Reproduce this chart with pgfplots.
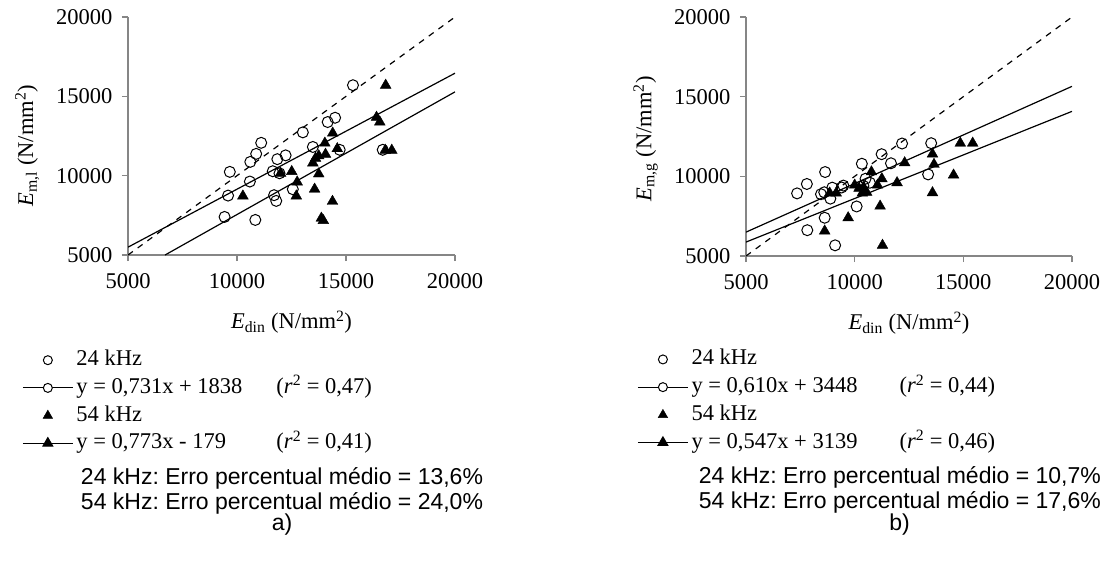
\documentclass[border=0pt]{standalone}
\usepackage{fontspec}
\setmainfont{Liberation Serif}
\newfontfamily\arialfont{Liberation Sans}
\usepackage{pgfplots}
\pgfplotsset{compat=1.18}
\frenchspacing
\definecolor{axgray}{RGB}{134,134,134}
\newcommand{\tfont}{\fontsize{22.5}{27}\selectfont}
\newcommand{\afont}{\arialfont\fontsize{23}{27}\selectfont}
\pgfplotsset{
 lineleg/.style={legend image code/.code={\draw[mark repeat=2,mark phase=2,##1] plot coordinates {(0pt,0pt) (25pt,0pt) (50pt,0pt)};}},
 markleg/.style={legend image code/.code={\draw[##1,only marks] plot coordinates {(25pt,0pt)};}},
 myaxis/.style={
   scale only axis, width=327pt, height=238pt,
   xmin=5000,xmax=20000,ymin=5000,ymax=20000,
   xtick={5000,10000,15000,20000}, ytick={5000,10000,15000,20000},
   scaled ticks=false,
   axis lines=left, axis line style={-, draw=axgray, line width=1.2pt},
   tick style={draw=axgray, line width=1.2pt},
   major tick length=6pt, tick align=outside,
   xticklabel shift=9pt, yticklabel shift=6pt,
   tick label style={font=\tfont, /pgf/number format/.cd, fixed, 1000 sep={}, assume math mode=true},
   every axis x label/.style={at={(axis description cs:0.5,-0.282)}, anchor=center, font=\tfont},
   clip mode=individual,
   legend cell align=left,
   legend style={anchor=north west, draw=none, fill=none, inner sep=0pt, row sep=6.7pt,
     font=\tfont, nodes={inner xsep=3pt, inner ysep=0pt, text height=16pt, text depth=5pt}},
 },
 circ/.style={only marks, mark=o, mark size=5.5pt, mark options={line width=1pt, black}},
 tri/.style={only marks, mark=triangle*, mark size=6.2pt, mark options={black, fill=black}},
 fit/.style={black, line width=1.2pt, no marks},
}
\pgfplotstableread{
x y
15320 15700
14500 13650
14160 13380
13020 12730
11110 12070
10880 11375
10610 10870
9670 10240
10590 9630
9590 8745
9430 7400
10840 7210
11700 8770
11800 8410
11640 10280
11850 11040
12230 11280
12560 9145
13480 11810
14710 11630
16685 11630
11950 10150
}\LcircTable
\pgfplotstableread{
x y
10270 8720
12000 10150
12510 10260
12760 9600
12720 8720
13560 9150
13750 10110
13480 10800
13600 11100
13750 11250
14060 11350
14030 12050
14390 12680
14600 11700
14380 8380
13870 7320
13960 7170
16400 13680
16550 13380
16820 15700
16800 11600
17100 11600
}\LtriTable
\pgfplotstableread{
x y
7350 8930
7800 9520
7820 6620
8450 8880
8600 9000
8640 10270
8620 7400
8880 8600
8970 9290
9100 5670
9480 9420
10090 8110
10330 10790
10500 9850
10700 9600
11240 11390
11670 10820
12180 12060
13520 12080
13380 10120
10400 9400
9400 9300
}\RcircTable
\pgfplotstableread{
x y
8620 6570
8850 8950
9150 8950
9700 7400
10000 9450
10200 9250
10350 8950
10550 9000
10400 9300
10770 10280
11050 9450
11250 9850
11170 8130
11280 5670
11950 9600
12300 10850
13580 11400
13650 10750
13580 8970
14550 10080
14860 12080
15430 12080
}\RtriTable
\begin{document}
\begin{tikzpicture}
\path[use as bounding box] (0,0) rectangle (1107pt,566pt);
% ---------------- a)
\begin{axis}[myaxis, at={(128pt,311pt)}, anchor=south west,
  every axis y label/.style={at={(axis description cs:-0.308,0.46)}, rotate=90, anchor=center, font=\tfont},
  xlabel={\textit{E}\textsubscript{din} (N/mm\textsuperscript{2})},
  ylabel={\textit{E}\textsubscript{m,l} (N/mm\textsuperscript{2})},
  legend style={at={(axis description cs:-0.324,-0.397)}}]
\addplot[circ, forget plot] table {\LcircTable};
\addplot[tri, forget plot] table {\LtriTable};
\addplot[black, line width=1.2pt, dash pattern=on 6pt off 6pt, forget plot] coordinates {(5000,5000) (20000,20000)};
\addplot[fit, forget plot] coordinates {(5000,5493) (20000,16458)};
\addplot[fit, forget plot] coordinates {(6700,5000) (20000,15281)};
\addlegendimage{markleg, mark=o, mark size=4.5pt, black, line width=1pt}
\addlegendentry{24 kHz}
\addlegendimage{lineleg, black, line width=1.2pt, mark=*, mark size=4.5pt, mark options={fill=white, line width=1pt}}
\addlegendentry{\makebox[200pt][l]{y = 0,731x + 1838}(\textit{r}\textsuperscript{2} = 0,47)}
\addlegendimage{markleg, mark=triangle*, mark size=5.5pt, black}
\addlegendentry{54 kHz}
\addlegendimage{lineleg, black, line width=1.2pt, mark=triangle*, mark size=5.5pt}
\addlegendentry{\makebox[200pt][l]{y = 0,773x - 179}(\textit{r}\textsuperscript{2} = 0,41)}
\node[font=\afont] at (axis description cs:0.471,-0.937) {24 kHz: Erro percentual médio = 13,6\%};
\node[font=\afont] at (axis description cs:0.471,-1.042) {54 kHz: Erro percentual médio = 24,0\%};
\node[font=\afont] at (axis description cs:0.471,-1.134) {a)};
\end{axis}
% ---------------- b)
\begin{axis}[myaxis, at={(746pt,310pt)}, anchor=south west, width=326pt, height=239pt,
  every axis y label/.style={at={(axis description cs:-0.308,0.49)}, rotate=90, anchor=center, font=\tfont},
  xlabel={\textit{E}\textsubscript{din} (N/mm\textsuperscript{2})},
  ylabel={\textit{E}\textsubscript{m,g} (N/mm\textsuperscript{2})},
  legend style={at={(axis description cs:-0.334,-0.388)}}]
\addplot[circ, forget plot] table {\RcircTable};
\addplot[tri, forget plot] table {\RtriTable};
\addplot[black, line width=1.2pt, dash pattern=on 6pt off 6pt, forget plot] coordinates {(5000,5000) (20000,20000)};
\addplot[fit, forget plot] coordinates {(5000,6498) (20000,15648)};
\addplot[fit, forget plot] coordinates {(5000,5874) (20000,14079)};
\addlegendimage{markleg, mark=o, mark size=4.5pt, black, line width=1pt}
\addlegendentry{24 kHz}
\addlegendimage{lineleg, black, line width=1.2pt, mark=*, mark size=4.5pt, mark options={fill=white, line width=1pt}}
\addlegendentry{\makebox[208pt][l]{y = 0,610x + 3448}(\textit{r}\textsuperscript{2} = 0,44)}
\addlegendimage{markleg, mark=triangle*, mark size=5.5pt, black}
\addlegendentry{54 kHz}
\addlegendimage{lineleg, black, line width=1.2pt, mark=triangle*, mark size=5.5pt}
\addlegendentry{\makebox[208pt][l]{y = 0,547x + 3139}(\textit{r}\textsuperscript{2} = 0,46)}
\node[font=\afont] at (axis description cs:0.472,-0.926) {24 kHz: Erro percentual médio = 10,7\%};
\node[font=\afont] at (axis description cs:0.472,-1.031) {54 kHz: Erro percentual médio = 17,6\%};
\node[font=\afont] at (axis description cs:0.471,-1.123) {b)};
\end{axis}
\end{tikzpicture}
\end{document}
